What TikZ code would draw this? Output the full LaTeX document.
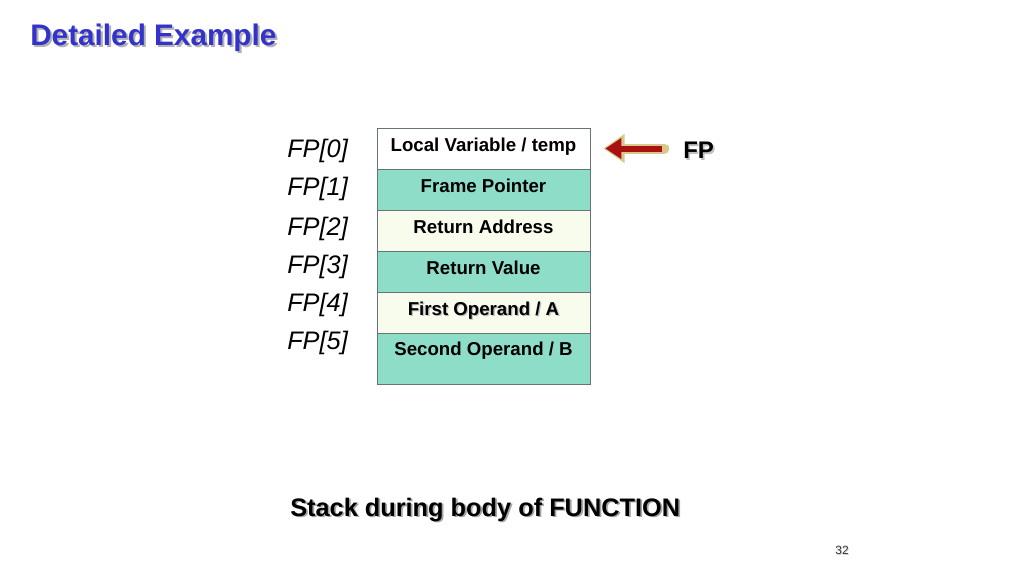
\documentclass[tikz,border=0pt]{standalone}
\usepackage{fontspec}
\setmainfont{Liberation Sans}
\usetikzlibrary{arrows.meta}

\definecolor{titleblue}{RGB}{51,51,204}
\definecolor{slotteal}{RGB}{141,221,201}
\definecolor{slotcream}{RGB}{248,252,236}
\definecolor{slotline}{RGB}{105,115,115}
\definecolor{arrowred}{RGB}{170,18,18}
\definecolor{arrowglow}{RGB}{216,200,140}

% text with a soft drop shadow
\newcommand{\shtext}[2][black!30]{\leavevmode\rlap{\kern0.07em\raisebox{-0.07em}{\textcolor{#1}{#2}}}#2}

\begin{document}
\begin{tikzpicture}[x=0.75pt, y=-0.75pt,
    slot/.style={draw=slotline, line width=0.6pt, minimum width=159.75pt, minimum height=30.75pt,
      inner sep=0pt, text height=9.75pt, text depth=5.25pt, font=\fontsize{14}{16}\selectfont\bfseries},
    idx/.style={anchor=west, inner sep=0pt, text height=13.6pt, text depth=0pt,
      font=\fontsize{19}{22}\selectfont\itshape},
    glowarrow/.style={draw=arrowglow, line width=7.5pt, -{Triangle[length=16pt, width=21pt]}},
    redarrow/.style={draw=arrowred, line width=4.5pt, -{Triangle[length=12pt, width=15pt]}}]
      \useasboundingbox (0,0) rectangle (1024,576);

      % Title
      \node[anchor=base west, inner sep=0pt, text=titleblue, font=\fontsize{22.3}{26}\selectfont\bfseries] (title) at (30,45) {\shtext{Detailed Example}};

      % Stack slots
      \node[slot, fill=white] (row0) at (483.5,148.5) {Local Variable / temp};
      \node[slot, fill=slotteal] (row1) at (483.5,189.5) {Frame Pointer};
      \node[slot, fill=slotcream] (row2) at (483.5,230.5) {Return Address};
      \node[slot, fill=slotteal] (row3) at (483.5,271.5) {Return Value};
      \node[slot, fill=slotcream] (row4) at (483.5,312.5) {\shtext[black!25]{First Operand / A}};
      \node[slot, fill=slotteal, minimum height=38.25pt, text depth=14.25pt] (row5) at (483.5,358.5) {Second Operand / B};

      % Offsets from FP
      \node[idx] (fp0) at (287,148) {FP[0]};
      \node[idx] (fp1) at (287,186) {FP[1]};
      \node[idx] (fp2) at (287,226) {FP[2]};
      \node[idx] (fp3) at (287,264) {FP[3]};
      \node[idx] (fp4) at (287,302) {FP[4]};
      \node[idx] (fp5) at (287,340) {FP[5]};

      % FP pointer
      \node[anchor=west, inner sep=0pt, font=\fontsize{18}{21}\selectfont\bfseries] (fp) at (683,151) {\shtext[black!25]{FP}};
      \draw[glowarrow, line cap=round, shorten >=9.75pt, shorten <=14pt] (fp.west |- row0.east) -- (row0.east);
      \draw[redarrow, shorten >=11.25pt, shorten <=15.5pt] (fp.west |- row0.east) -- (row0.east);

      % Caption
      \node[anchor=base west, inner sep=0pt, font=\fontsize{19}{22}\selectfont\bfseries] (caption) at (290,516) {\shtext[black!35]{Stack during body of FUNCTION}};

      % Page number
      \node[inner sep=0pt, text=black!80, font=\fontsize{9}{11}\selectfont] (page) at (842,551) {\shtext[black!20]{32}};

    \end{tikzpicture}
\end{document}
